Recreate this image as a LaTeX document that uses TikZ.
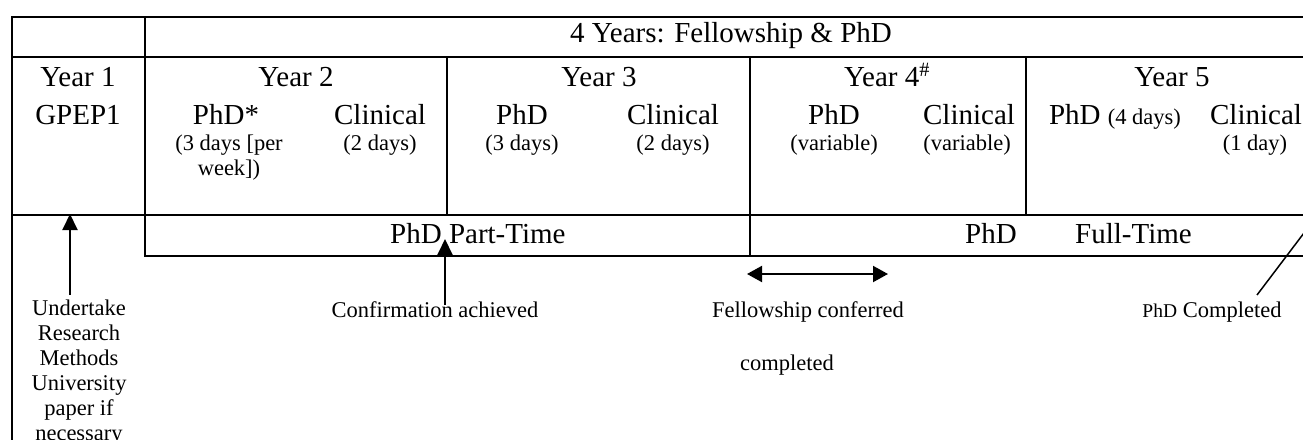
\documentclass[tikz,border=0pt]{standalone}
\usepackage{fontspec}
\setmainfont{Liberation Serif}
\usetikzlibrary{arrows.meta}
\begin{document}
\begin{tikzpicture}[x=1pt,y=-1pt,
  grid/.style={line width=2pt,line cap=rect},
  big/.style={inner sep=0pt,anchor=base,font=\fontsize{29}{34}\selectfont},
  sml/.style={inner sep=0pt,anchor=base,align=center,font=\fontsize{22.5}{25}\selectfont},
  arr/.style={line width=2pt,-{Triangle[length=16pt,width=15pt]}},
  darr/.style={line width=2pt,{Triangle[length=15pt,width=16pt]}-{Triangle[length=15pt,width=16pt]}}]
\useasboundingbox (0,0) rectangle (1303,439);
% table rules
\draw[grid] (12,17) -- (1310,17);
\draw[grid] (12,57) -- (1310,57);
\draw[grid] (12,215) -- (1310,215);
\draw[grid] (145,256) -- (1310,256);
\draw[grid] (12,17) -- (12,450);
\draw[grid] (145,17) -- (145,256);
\draw[grid] (447,57) -- (447,215);
\draw[grid] (750,57) -- (750,256);
\draw[grid] (1026,57) -- (1026,215);
% header
\node[big] (head) at (731,42) {4 Years: Fellowship \& PhD};
% year 1
\node[big] (y1) at (78,86) {Year 1};
\node[big] (gpep) at (78,124) {GPEP1};
% year 2
\node[big] (y2) at (296,86) {Year 2};
\node[big] (y2p) at (226,124) {PhD*};
\node[sml] (y2pd) at (229,175) {(3 days [per\\ week])};
\node[big] (y2c) at (380,124) {Clinical};
\node[sml] (y2cd) at (380,150) {(2 days)};
% year 3
\node[big] (y3) at (599,86) {Year 3};
\node[big] (y3p) at (522,124) {PhD};
\node[sml] (y3pd) at (522,150) {(3 days)};
\node[big] (y3c) at (673,124) {Clinical};
\node[sml] (y3cd) at (673,150) {(2 days)};
% year 4
\node[big] (y4) at (887,86) {Year 4\textsuperscript{\#}};
\node[big] (y4p) at (834,124) {PhD};
\node[sml] (y4pd) at (834,150) {(variable)};
\node[big] (y4c) at (969,124) {Clinical};
\node[sml] (y4cd) at (967,150) {(variable)};
% year 5
\node[big] (y5) at (1172,86) {Year 5};
\node[big] (y5p) at (1115,124) {PhD {\fontsize{22.5}{25}\selectfont(4 days)}};
\node[big] (y5c) at (1256,124) {Clinical};
\node[sml] (y5cd) at (1255,150) {(1 day)};
% part / full time row
\node[big,anchor=base west] (pt) at (390,243) {PhD Part-Time};
\node[big,anchor=base west] (ftp) at (965,243) {PhD};
\node[big,anchor=base west] (ft) at (1075,243) {Full-Time};
% bottom labels
\node[sml] (under) at (79,440) {Undertake\\ Research\\ Methods\\ University\\ paper if\\ necessary};
\node[sml] (conf) at (435,317) {Confirmation achieved};
\node[sml] (fell) at (808,317) {Fellowship conferred};
\node[sml] (compl) at (787,370) {completed};
\node[sml] (phdc) at (1212,317) {{\fontsize{19.5}{25}\selectfont PhD} Completed};
% connectors
\coordinate (a1s) at (70,295);
\coordinate (a1t) at (70,214);
\draw[arr] (a1s) -- (a1t);
\coordinate (a2s) at (445,305);
\coordinate (a2t) at (445,239);
\draw[arr] (a2s) -- (a2t);
\coordinate (a3l) at (747,274);
\coordinate (a3r) at (888,274);
\draw[darr] (a3l) -- (a3r);
\coordinate (a4s) at (1257,295);
\coordinate (a4t) at (1310,225);
\draw[line width=1.5pt] (a4s) -- (a4t);
\end{tikzpicture}
\end{document}
